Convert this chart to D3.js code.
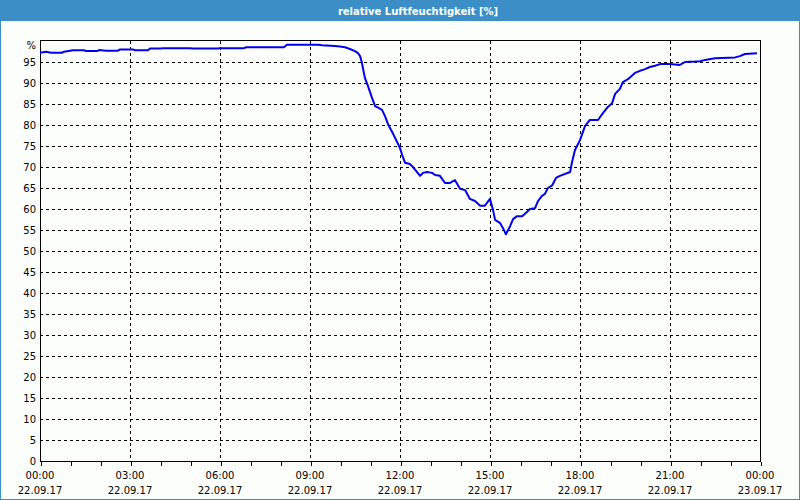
<!DOCTYPE html>
<html><head><meta charset="utf-8">
<script src="https://cdn.jsdelivr.net/npm/d3@7"></script>
<style>
html,body{margin:0;padding:0;background:#fff;}
svg{display:block;}
</style></head>
<body>
<script>
// ---- data ----
const title = "relative Luftfeuchtigkeit [%]";
const unitLabel = "%";
const hours = [0,0.2,0.37,0.73,0.8,1.1,1.47,1.53,1.9,1.97,2.2,2.6,2.67,3.1,3.17,3.6,3.67,4.03,4.1,5.0,5.07,5.93,6.0,6.8,6.87,8.13,8.23,9.27,9.4,9.83,10.0,10.17,10.33,10.5,10.6,10.67,10.73,10.83,10.93,11.07,11.17,11.3,11.4,11.5,11.6,11.77,11.9,12.0,12.07,12.17,12.33,12.43,12.57,12.67,12.77,12.9,13.07,13.17,13.33,13.5,13.67,13.83,14.0,14.17,14.33,14.5,14.67,14.83,15.0,15.1,15.17,15.33,15.43,15.53,15.67,15.77,15.9,16.07,16.23,16.33,16.5,16.6,16.73,16.83,16.93,17.07,17.2,17.33,17.67,17.73,17.83,18.0,18.17,18.33,18.6,18.77,18.93,19.07,19.17,19.33,19.43,19.6,19.83,20.0,20.17,20.33,20.5,20.67,21.0,21.33,21.5,21.83,22.0,22.17,22.5,23.17,23.33,23.5,23.9];
const humidity = [97.2,97.45,97.2,97.2,97.45,97.8,97.8,97.6,97.6,97.85,97.7,97.7,98.0,98.0,97.8,97.8,98.2,98.2,98.3,98.3,98.2,98.2,98.3,98.3,98.5,98.5,99.1,99.1,99.0,98.8,98.7,98.5,98.1,97.6,97.1,96.4,94.8,91.2,89.3,86.4,84.5,84.0,83.6,82.1,80.2,77.9,76.0,74.5,72.9,71.0,70.7,70.0,68.8,67.9,68.6,68.8,68.6,68.1,67.9,66.2,66.2,66.9,64.8,64.5,62.4,61.9,60.8,60.8,62.4,59.8,57.4,56.7,55.5,54.0,55.9,57.6,58.3,58.3,59.3,60.0,60.2,61.9,63.1,63.6,65.0,65.6,67.4,67.9,68.8,71.0,74.0,76.4,79.8,81.2,81.2,82.9,84.3,85.2,87.4,88.6,90.2,90.9,92.4,92.9,93.3,93.8,94.1,94.5,94.5,94.3,95.0,95.1,95.2,95.5,95.9,96.1,96.4,96.9,97.1];
const xTickHours = [0,3,6,9,12,15,18,21,24];
const timeLabels = ["00:00","03:00","06:00","09:00","12:00","15:00","18:00","21:00","00:00"];
const dateLabels = ["22.09.17","22.09.17","22.09.17","22.09.17","22.09.17","22.09.17","22.09.17","22.09.17","23.09.17"];
const yTicks = [0,5,10,15,20,25,30,35,40,45,50,55,60,65,70,75,80,85,90,95];

// ---- layout ----
const W = 800, H = 500;
const pL = 40, pR = 760, pT = 41, pB = 461;
const font = "'DejaVu Sans', Verdana, sans-serif";
const blue = "#3c8fc6";

const svg = d3.select("body").append("svg").attr("width", W).attr("height", H);
svg.append("rect").attr("width", W).attr("height", H).attr("fill", "#fcfefc");
// frame
svg.append("rect").attr("x",0.5).attr("y",0.5).attr("width",W-1).attr("height",H-1)
  .attr("fill","none").attr("stroke",blue).attr("stroke-width",1);
svg.append("rect").attr("x",0).attr("y",0).attr("width",W).attr("height",21).attr("fill",blue);
svg.append("text").attr("x",418).attr("y",14.5).attr("text-anchor","middle")
  .attr("fill","#fff").attr("font-family",font).attr("font-weight","bold").attr("font-size","10px")
  .text(title);

const x = d3.scaleLinear().domain([0,24]).range([pL,pR]);
const y = d3.scaleLinear().domain([0,100]).range([pB,pT]);

const g = svg.append("g").attr("shape-rendering","crispEdges");
// grid horizontal
g.selectAll("line.hg").data(yTicks.filter(d=>d>0)).enter().append("line")
  .attr("x1",pL).attr("x2",pR).attr("y1",d=>Math.round(y(d))+0.5).attr("y2",d=>Math.round(y(d))+0.5)
  .attr("stroke","#000").attr("stroke-dasharray","3,3");
// grid vertical
g.selectAll("line.vg").data(xTickHours.filter(d=>d>0&&d<24)).enter().append("line")
  .attr("x1",d=>Math.round(x(d))+0.5).attr("x2",d=>Math.round(x(d))+0.5).attr("y1",pT).attr("y2",pB)
  .attr("stroke","#000").attr("stroke-dasharray","3,3");
// plot border
g.append("rect").attr("x",pL+0.5).attr("y",pT-0.5).attr("width",pR-pL).attr("height",pB-pT+0.5)
  .attr("fill","none").attr("stroke","#000");

// x axis ticks (every hour)
const xAxis = d3.axisBottom(x).tickValues(d3.range(0,25,1)).tickSize(4).tickFormat("");
const xa = svg.append("g").attr("transform",`translate(0.5,${pB+0.5})`).attr("shape-rendering","crispEdges").call(xAxis);
xa.select(".domain").remove();

// x labels
const xl = svg.append("g").attr("font-family",font).attr("font-size","10px").attr("fill","#000").attr("text-anchor","middle");
xl.selectAll("text.t").data(xTickHours).enter().append("text")
  .attr("x",d=>x(d)).attr("y",479).text((d,i)=>timeLabels[i]);
xl.selectAll("text.d").data(xTickHours).enter().append("text")
  .attr("x",d=>x(d)).attr("y",494).text((d,i)=>dateLabels[i]);

// y labels
const yl = svg.append("g").attr("font-family",font).attr("font-size","10px").attr("fill","#000").attr("text-anchor","end");
yl.selectAll("text").data(yTicks).enter().append("text")
  .attr("x",36).attr("y",d=>y(d)+4).text(d=>d);
yl.append("text").attr("x",36).attr("y",y(100)+8).text(unitLabel);

// line
const line = d3.line().x((d,i)=>x(hours[i])).y(d=>y(d));
svg.append("path").datum(humidity).attr("d",line)
  .attr("fill","none").attr("stroke","#0000ee").attr("stroke-width",2).attr("stroke-linejoin","round");
</script>
</body></html>
